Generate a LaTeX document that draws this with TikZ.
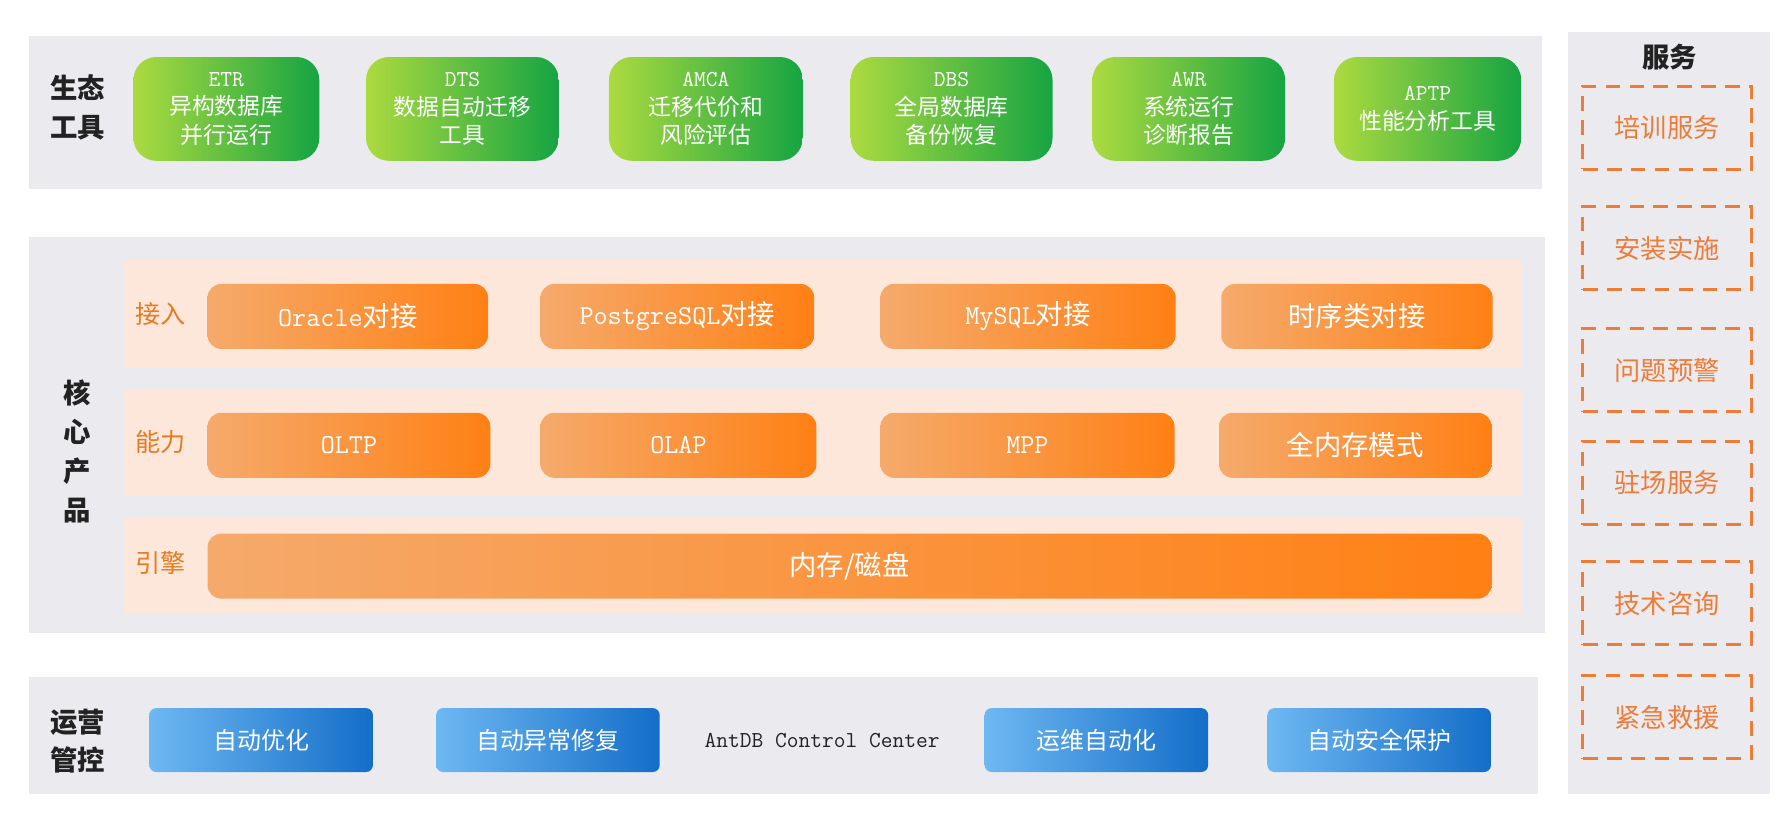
\documentclass[tikz,border=0pt]{standalone}
\usepackage{fontspec}
\setmainfont{Noto Sans CJK SC}
\usetikzlibrary{positioning}
\definecolor{panelgray}{RGB}{235,235,239}
\definecolor{bandpeach}{RGB}{252,231,218}
\definecolor{olight}{RGB}{245,170,108}
\definecolor{odark}{RGB}{255,128,20}
\definecolor{glight}{RGB}{172,218,64}
\definecolor{gdark}{RGB}{22,164,66}
\definecolor{blight}{RGB}{110,184,242}
\definecolor{bdark}{RGB}{20,110,200}
\definecolor{dorange}{RGB}{236,124,56}
\definecolor{lblorange}{RGB}{232,122,30}
\definecolor{darktext}{RGB}{34,34,34}

\begin{document}
\begin{tikzpicture}[x=1pt, y=-1pt,
  panel/.style={fill=panelgray},
  band/.style={fill=bandpeach},
  greenbox/.style={rounded corners=20pt, left color=glight, right color=gdark,
  text=white, align=center, minimum height=91pt, inner sep=0pt,
  font=\fontsize{20}{25}\selectfont},
  orangebox/.style={rounded corners=12pt, left color=olight, right color=odark,
  text=white, align=center, minimum height=57pt, inner sep=0pt,
  font=\fontsize{24}{28}\selectfont},
  bluebox/.style={rounded corners=6pt, left color=blight, right color=bdark,
  text=white, align=center, minimum height=56pt, minimum width=196pt, inner sep=0pt,
  font=\fontsize{21}{25}\selectfont},
  svcbox/.style={draw=dorange, line width=2.5pt, dash pattern=on 13pt off 8pt,
  text=dorange, minimum width=148pt, minimum height=73pt, inner sep=0pt,
  font=\fontsize{23}{27}\selectfont},
  side/.style={text=darktext, align=center, font=\bfseries\fontsize{24}{34}\selectfont},
  rowlbl/.style={text=lblorange, font=\fontsize{22}{26}\selectfont}
]
\fill[white] (0,0) rectangle (1568,718);
\useasboundingbox (0,0) rectangle (1568,718);

% panels
\fill[panel] (25,32) rectangle (1352,166);
\fill[panel] (25,208) rectangle (1355,555);
\fill[panel] (25,594) rectangle (1349,696);
\fill[panel] (1375,28) rectangle (1552,696);
\fill[band] (108,228) rectangle (1335,323);
\fill[band] (108,341) rectangle (1335,435);
\fill[band] (108,453) rectangle (1335,538);

% ecosystem tools
\node[side] (eco) at (68,94) {生态\\工具};
\node[greenbox, minimum width=163pt] (etr)  at (198.5,95.5) {{\ttfamily ETR}\\异构数据库\\并行运行};
\node[greenbox, minimum width=169pt] (dts)  at (405.5,95.5) {{\ttfamily DTS}\\数据自动迁移\\工具};
\node[greenbox, minimum width=170pt] (amca) at (619,95.5) {{\ttfamily AMCA}\\迁移代价和\\风险评估};
\node[greenbox, minimum width=177pt] (dbs)  at (834.5,95.5) {{\ttfamily DBS}\\全局数据库\\备份恢复};
\node[greenbox, minimum width=169pt] (awr)  at (1042.5,95.5) {{\ttfamily AWR}\\系统运行\\诊断报告};
\node[greenbox, minimum width=164pt] (aptp) at (1252,95.5) {{\ttfamily APTP}\\性能分析工具};

% core product
\node[side] (core) at (68,396) {核\\心\\产\\品};
\node[rowlbl] (acc) at (141,275) {接入};
\node[rowlbl] (cap) at (141,388) {能力};
\node[rowlbl] (eng) at (141,494) {引擎};
\node[orangebox, minimum width=246pt] (ora) at (305,277.5) {{\ttfamily Oracle}对接};
\node[orangebox, minimum width=240pt] (pg)  at (594,277.5) {{\ttfamily PostgreSQL}对接};
\node[orangebox, minimum width=259pt] (my)  at (901.5,277.5) {{\ttfamily MySQL}对接};
\node[orangebox, minimum width=238pt] (ts)  at (1190,277.5) {时序类对接};
\node[orangebox, minimum width=248pt] (oltp) at (306,390.5) {{\ttfamily OLTP}};
\node[orangebox, minimum width=242pt] (olap) at (595,390.5) {{\ttfamily OLAP}};
\node[orangebox, minimum width=258pt] (mpp)  at (901,390.5) {{\ttfamily MPP}};
\node[orangebox, minimum width=239pt] (imem) at (1188.5,390.5) {全内存模式};
\node[orangebox, minimum width=1126pt] (disk) at (745,496.5) {内存/磁盘};

% operations
\node[side] (ops) at (68,650) {运营\\管控};
\node[bluebox] (opt)  at (229,649) {自动优化};
\node[bluebox] (fix)  at (480.5,649) {自动异常修复};
\node[text=darktext, font=\ttfamily\fontsize{20}{24}\selectfont] (acc2) at (721,649) {AntDB Control Center};
\node[bluebox] (auto) at (961.5,649) {运维自动化};
\node[bluebox] (sec)  at (1209.5,649) {自动安全保护};

% services
\node[side] (svc) at (1464,50) {服务};
\node[svcbox] (train)   at (1462,112) {培训服务};
\node[svcbox] (install) at (1462,217.5) {安装实施};
\node[svcbox] (warn)    at (1462,324.5) {问题预警};
\node[svcbox] (onsite)  at (1462,423.5) {驻场服务};
\node[svcbox] (consult) at (1462,529) {技术咨询};
\node[svcbox] (rescue)  at (1462,629) {紧急救援};
\end{tikzpicture}
\end{document}
